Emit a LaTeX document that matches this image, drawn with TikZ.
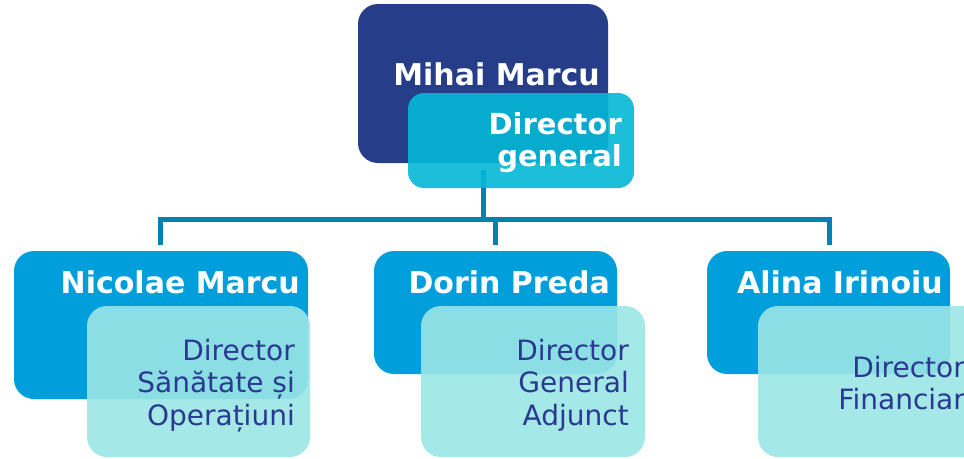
\documentclass[tikz,border=0pt]{standalone}
\usepackage{fontspec}
\setmainfont{DejaVu Sans}
\definecolor{navy}{RGB}{38,61,138}
\definecolor{topcyan}{RGB}{4,183,214}
\definecolor{midblue}{RGB}{0,159,220}
\definecolor{paleblue}{RGB}{154,229,229}
\definecolor{textblue}{RGB}{43,57,144}
\definecolor{connblue}{RGB}{0,129,180}
\begin{document}
\begin{tikzpicture}[x=1pt,y=-1pt,
  box/.style={draw=none, inner sep=0pt, outer sep=0pt, anchor=north west, rounded corners=20pt},
  darkbox/.style={box, fill=navy},
  cyanbox/.style={box, fill=topcyan, fill opacity=0.9, rounded corners=16pt},
  bluebox/.style={box, fill=midblue},
  palebox/.style={box, fill=paleblue, fill opacity=0.9},
  nametext/.style={inner sep=0pt, anchor=base east, text=white, font=\fontsize{30}{36}\selectfont\bfseries},
  roletop/.style={inner sep=0pt, anchor=north east, align=right, text=white, font=\fontsize{29}{32}\selectfont\bfseries},
  roletext/.style={inner sep=0pt, anchor=north east, align=right, text=textblue, font=\fontsize{28}{32.5}\selectfont},
  conn/.style={draw=connblue, line width=5pt, line join=miter}]
\useasboundingbox (0,0) rectangle (964,458);
\clip (0,0) rectangle (964,458);
% top
\node[darkbox, minimum width=250pt, minimum height=159pt] (ceo) at (358,4) {};
\coordinate (src) at (483,170);
\coordinate (bus) at (483,219);
\coordinate (d1) at (160,245);
\coordinate (d2) at (495,245);
\coordinate (d3) at (829,245);
\draw[conn] (src) -- (bus);
\draw[conn] (d1) -- (d1 |- bus) -- (d3 |- bus) -- (d3);
\draw[conn] (d2 |- bus) -- (d2);
\node[cyanbox, minimum width=226pt, minimum height=95pt] (ceorole) at (408,93) {};
\node[nametext] (ceoname) at (600,85) {Mihai Marcu};
\node[roletop] (ceotitle) at (622,112) {Director\\general};
% bottom boxes
\node[bluebox, minimum width=294pt, minimum height=148pt] (nic) at (14,251) {};
\node[nametext] (nicname) at (300,293) {Nicolae Marcu};
\node[palebox, minimum width=223pt, minimum height=151pt] (nicrole) at (87,306) {};
\node[roletext] (nictitle) at (295,339) {Director\\Sănătate și\\Operațiuni};

\node[bluebox, minimum width=243pt, minimum height=123pt] (dor) at (374,251) {};
\node[nametext] (dorname) at (610,293) {Dorin Preda};
\node[palebox, minimum width=224pt, minimum height=151pt] (dorrole) at (421,306) {};
\node[roletext] (dortitle) at (629,339) {Director\\General\\Adjunct};

\node[bluebox, minimum width=243pt, minimum height=123pt] (ali) at (707,251) {};
\node[nametext] (aliname) at (943,293) {Alina Irinoiu};
\node[palebox, minimum width=224pt, minimum height=151pt] (alirole) at (758,306) {};
\node[roletext] (alititle) at (965,356) {Director\\Financiar};
\end{tikzpicture}
\end{document}
